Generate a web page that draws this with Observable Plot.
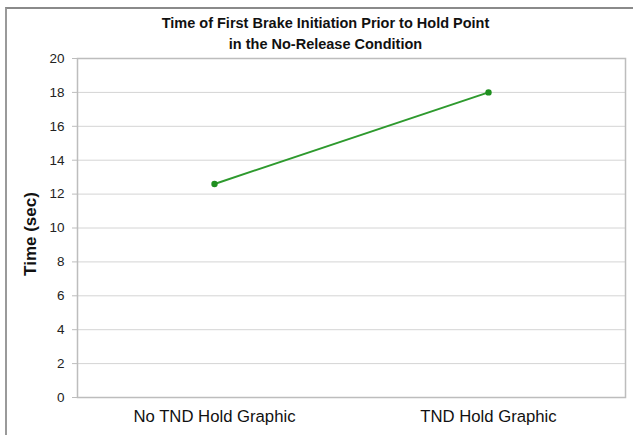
<!DOCTYPE html>
<html>
<head>
<meta charset="utf-8">
<script src="https://cdn.jsdelivr.net/npm/d3@7"></script>
<script src="https://cdn.jsdelivr.net/npm/@observablehq/plot@0.6"></script>
<style>
  html, body { margin: 0; padding: 0; background: #fff; }
  #wrap { position: relative; width: 633px; height: 435px; overflow: hidden; font-family: "Liberation Sans", Arial, sans-serif; }
  #frame { position: absolute; left: 5px; top: 7px; width: 640px; height: 440px; border-top: 2px solid #8a8a8a; border-left: 2px solid #9a9a9a; box-sizing: border-box; pointer-events: none; }
  #title { height: 52px; box-sizing: border-box; padding-top: 13px; padding-left: 18px; text-align: center; font-weight: bold; font-size: 14.5px; line-height: 21px; color: #111; }
  svg { display: block; }
</style>
</head>
<body>
<div id="wrap">
  <div id="frame"></div>
  <div id="title">Time of First Brake Initiation Prior to Hold Point<br>in the No-Release Condition</div>
  <div id="chart"></div>
</div>
<script>
const categories = ["No TND Hold Graphic", "TND Hold Graphic"];
const times = [12.6, 18.0];
const yTicks = [0, 2, 4, 6, 8, 10, 12, 14, 16, 18, 20];

const data = categories.map((c, i) => ({category: c, time: times[i]}));

const chart = Plot.plot({
  width: 633,
  height: 383,
  marginLeft: 77,
  marginRight: 8,
  marginTop: 6,
  marginBottom: 38,
  style: { fontFamily: "'Liberation Sans', Arial, sans-serif", background: "#fff", overflow: "visible" },
  x: { type: "band", domain: categories, padding: 0, label: null },
  y: { domain: [0, 20], label: null },
  marks: [
    Plot.gridY(yTicks, { stroke: "#d4d4d4", strokeOpacity: 1, strokeWidth: 1 }),
    Plot.frame({ stroke: "#bdbdbd", strokeWidth: 1.5 }),
    Plot.axisY(yTicks, { tickSize: 5, tickPadding: 8, stroke: "#bdbdbd", fontSize: 13.5, fill: "#222", label: null }),
    Plot.axisX({ tickSize: 0, tickPadding: 13, fontSize: 16.7, fill: "#111", label: null }),
    Plot.text(["Time (sec)"], { frameAnchor: "left", dx: -47, dy: 6, rotate: -90, textAnchor: "middle", lineAnchor: "middle", fontSize: 17, fontWeight: "bold", fill: "#111" }),
    Plot.line(data, { x: "category", y: "time", stroke: "#2e9a2e", strokeWidth: 2 }),
    Plot.dot(data, { x: "category", y: "time", r: 3.2, fill: "#1f8f1f", stroke: "none" })
  ]
});
document.getElementById("chart").appendChild(chart);
</script>
</body>
</html>
